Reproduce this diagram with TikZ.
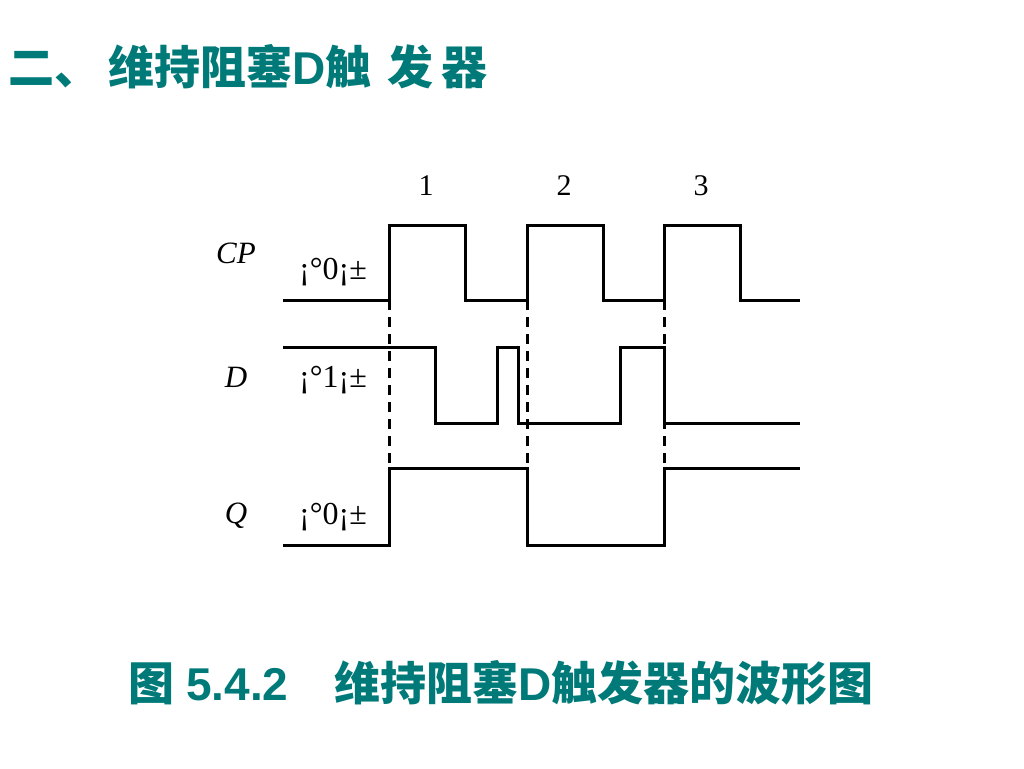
\documentclass[tikz,border=0pt]{standalone}
\usepackage{fontspec}
\setmainfont{Liberation Serif}
\newfontfamily\cjk{Noto Sans CJK SC}
\newfontfamily\arialb{Liberation Sans}
\usetikzlibrary{positioning}
\definecolor{titleteal}{RGB}{0,122,120}

\tikzset{
  wave/.style={line width=3pt, line join=miter},
  sync/.style={line width=3pt, dash pattern=on 10pt off 7pt},
  sig/.style={font=\fontsize{31}{34}\selectfont\itshape},
  lvl/.style={font=\fontsize{32}{35}\selectfont},
  num/.style={font=\fontsize{30}{33}\selectfont},
  heading/.style={anchor=west, inner sep=0pt, text=titleteal,
    font=\fontsize{46}{52}\selectfont\bfseries\cjk}
}

\begin{document}
\begin{tikzpicture}[x=1pt,y=-1pt]
  \useasboundingbox (0,0) rectangle (1024,768);

  \node[heading] (title) at (8,67)
    {二、\hspace{8pt}维持阻塞{\arialb\bfseries D}触\hspace{16pt}发\hspace{8pt}器};

  % signal names and initial states
  \node[sig] (cp) at (236,253) {CP};
  \node[sig] (d)  at (236,377) {D};
  \node[sig] (q)  at (236,516) {Q};
  \node[lvl] (cp0) at (333,272) {¡°0¡±};
  \node[lvl] (d1)  at (333,380) {¡°1¡±};
  \node[lvl] (q0)  at (333,517) {¡°0¡±};

  % clock edges
  \foreach \x/\n in {389/1,527/2,664/3} {
    \draw[sync] (\x,300) -- (\x,468);
    \node[num] (n\n) at (\x+37,186) {\n};
  }

  \draw[wave] (283,300) -- (389,300) -- (389,225) -- (465,225) -- (465,300)
    -- (527,300) -- (527,225) -- (603,225) -- (603,300) -- (664,300)
    -- (664,225) -- (740,225) -- (740,300) -- (800,300);
  \draw[wave] (283,347) -- (435,347) -- (435,423) -- (497,423) -- (497,347)
    -- (518,347) -- (518,423) -- (620,423) -- (620,347) -- (664,347)
    -- (664,423) -- (800,423);
  \draw[wave] (283,545) -- (389,545) -- (389,468) -- (527,468) -- (527,545)
    -- (664,545) -- (664,468) -- (800,468);

  \node[heading] (caption) at (128,683)
    {图\hspace{12pt}{\arialb\bfseries 5.4.2}\hspace{46pt}维持阻塞{\arialb\bfseries D}触发器的波形图};
\end{tikzpicture}
\end{document}
